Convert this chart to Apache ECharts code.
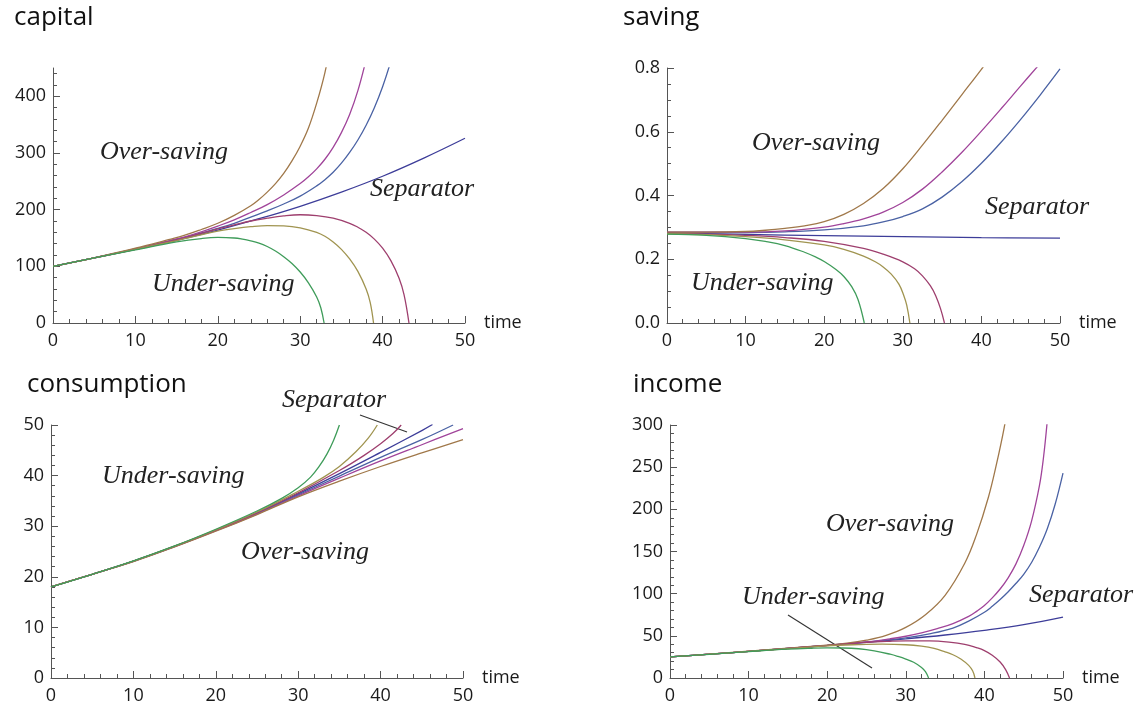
<!DOCTYPE html>
<html>
<head>
<meta charset="utf-8">
<script src="https://cdn.jsdelivr.net/npm/echarts@6.0.0/dist/echarts.min.js"></script>
<style>
  html, body { margin: 0; padding: 0; background: #fff; }
  #chart { width: 1147px; height: 708px; }
</style>
</head>
<body>
<div id="chart"></div>
<script>
// Trajectories of a growth model: [time, value] pairs for each path.

// ---- capital ----
const capSeparator = [[0,100],[5,115],[10,130],[15,146],[20,164],[25,184],[30,206],[35,231],[40,259],[45,291],[50,326]];
const capOverBlue = [[0,100],[5,115],[10,131],[14,144],[16,151],[18,159],[20,167],[22,176],[24,187],[26,198],[28,210],[30,224],[32,242],[33,253],[34,266],[35,282],[36,301],[37,323],[38,349],[39,380],[40,417],[41,462],[42,515]];
const capOverPurple = [[0,100],[5,115],[10,131],[14,145],[16,152],[18,161],[20,171],[22,182],[24,195],[26,209],[28,226],[30,246],[31,258],[32,272],[33,289],[34,310],[35,336],[36,368],[37,410],[38,465]];
const capOverBrown = [[0,100],[5,115],[10,132],[12,139],[14,147],[16,155],[18,165],[20,176],[22,190],[24,207],[25,218],[26,231],[27,246],[28,264],[29,286],[30,312],[31,344],[32,388],[33,442],[34,515]];
const capUnderCrimson = [[0,100],[5,115],[10,130],[15,146.5],[20,166],[22,173],[24,180],[26,185],[28,189],[30,191],[32,189.5],[34,185],[36,176],[37,169],[38,160],[39,148],[40,132],[41,110],[42,79],[42.6,50],[43.2,0]];
const capUnderOlive = [[0,100],[5,115],[10,130],[15,145.5],[20,162],[22,166.5],[24,170],[26,172],[28,171.5],[30,168],[32,160],[33,153],[34,143],[35,130],[36,113],[37,91],[38,60],[38.5,36],[38.9,0]];
const capUnderGreen = [[0,100],[5,115],[10,129],[15,143],[18,149],[20,151],[22,150],[23,148],[24,145],[25,141],[26,135],[27,127],[28,117],[29,105],[30,90],[31,71],[32,46],[32.5,27],[32.9,0]];

// ---- saving ----
const savSeparator = [[0,0.283],[10,0.278],[20,0.274],[30,0.271],[40,0.268],[50,0.266]];
const savOverBlue = [[0,0.284],[10,0.284],[15,0.286],[20,0.292],[25,0.305],[27.5,0.317],[30,0.334],[32.5,0.358],[35,0.395],[37.5,0.443],[40,0.501],[42.5,0.567],[45,0.639],[47.5,0.716],[50,0.797]];
const savOverPurple = [[0,0.285],[10,0.285],[15,0.289],[20,0.301],[22.5,0.312],[25,0.327],[27.5,0.348],[30,0.378],[32.5,0.42],[35,0.474],[37.5,0.535],[40,0.602],[42.5,0.672],[45,0.744],[47.5,0.815]];
const savOverBrown = [[0,0.285],[5,0.285],[10,0.287],[12.5,0.291],[15,0.297],[17.5,0.305],[20,0.318],[22.5,0.341],[25,0.375],[27.5,0.422],[30,0.484],[32.5,0.558],[35,0.636],[37.5,0.716],[40,0.796],[41,0.83]];
const savUnderCrimson = [[0,0.281],[5,0.279],[10,0.275],[15,0.268],[20,0.256],[25,0.234],[27.5,0.216],[30,0.192],[31.5,0.17],[32.5,0.148],[33.5,0.117],[34.2,0.085],[34.8,0.045],[35.3,0]];
const savUnderOlive = [[0,0.28],[5,0.277],[10,0.271],[15,0.261],[20,0.245],[22.5,0.231],[25,0.21],[26.5,0.192],[27.5,0.176],[28.5,0.154],[29.5,0.122],[30.1,0.088],[30.5,0.056],[30.9,0]];
const savUnderGreen = [[0,0.279],[5,0.275],[10,0.265],[12.5,0.256],[15,0.243],[17.5,0.222],[19,0.206],[20,0.193],[21.5,0.168],[22.5,0.146],[23.5,0.114],[24.3,0.074],[25.1,0]];

// ---- consumption ----
const conSeparator = [[0,18],[5,20.5],[10,23.1],[15,26.0],[20,29.2],[25,32.6],[30,36.4],[35,40.4],[40,44.6],[45,48.9],[46.3,50.1]];
const conOverBlue = [[0,18],[5,20.5],[10,23.1],[15,26.0],[20,29.15],[25,32.5],[30,36.2],[35,39.9],[40,43.6],[45,47.1],[48.8,50.0]];
const conOverPurple = [[0,18],[5,20.5],[10,23.05],[15,25.95],[20,29.1],[25,32.4],[30,36.0],[35,39.5],[40,42.9],[45,46.1],[50,49.3]];
const conOverBrown = [[0,18],[5,20.5],[10,23.0],[15,25.9],[20,29.0],[25,32.3],[30,35.8],[35,38.9],[40,41.8],[45,44.5],[50,47.1]];
const conUnderCrimson = [[0,18],[5,20.5],[10,23.1],[15,26.05],[20,29.25],[25,32.7],[30,36.6],[35,41.0],[38,44.0],[40,46.3],[41.5,48.3],[42.5,50]];
const conUnderOlive = [[0,18],[5,20.5],[10,23.1],[15,26.05],[20,29.3],[25,32.8],[30,36.9],[33,39.6],[35,41.8],[37,44.7],[38.5,47.4],[39.6,50]];
const conUnderGreen = [[0,18],[5,20.5],[10,23.15],[15,26.1],[20,29.4],[25,33.0],[28,35.5],[30,37.6],[31.5,39.7],[32.5,41.7],[33.5,44.3],[34.3,47.0],[35,50]];

// ---- income ----
const incSeparator = [[0,25],[5,28.2],[10,31.6],[15,35.1],[20,38.6],[25,42.4],[30,46.4],[35,51],[40,56.5],[45,63.2],[50,72.2]];
const incOverBlue = [[0,25],[5,28.2],[10,31.6],[15,35.1],[20,38.7],[25,42.6],[30,47.6],[33,52.3],[36,59.2],[38,67.5],[40,78],[41,85],[42,93],[43,102],[44,112],[45,123],[46,137],[47,155],[48,177],[49,206],[50,243]];
const incOverPurple = [[0,25],[5,28.2],[10,31.6],[15,35.1],[20,38.8],[25,42.8],[28,46.5],[30,49.5],[32,53.5],[34,58.5],[36,64.5],[38,73],[39,79],[40,86],[41,95],[42,105.5],[43,118.5],[44,135],[45,157],[46,186],[47,228],[47.5,260],[48,305],[48.3,340]];
const incOverBrown = [[0,25],[5,28.2],[10,31.7],[15,35.3],[20,39.1],[22.5,41.2],[25,44.8],[27.5,50.5],[30,60],[32.5,75],[35,98],[37.5,136],[39,170],[40.5,214],[41.5,252],[42.5,296],[43.2,335]];
const incUnderCrimson = [[0,25],[5,28.2],[10,31.5],[15,35],[20,38.5],[25,42.2],[28,43.6],[30,44.1],[33,44],[35.5,42.6],[37.5,40],[39,36],[40,32.5],[41,27],[42,19],[42.7,10],[43.2,0]];
const incUnderOlive = [[0,25],[5,28.2],[10,31.5],[15,34.9],[20,38.2],[24,39.6],[27,40.1],[30,39.4],[32,37.7],[33.6,35.1],[35,31],[36,27.6],[37,22.6],[38,15],[38.5,8.5],[38.8,0]];
const incUnderGreen = [[0,25],[5,28.1],[10,31.3],[15,34.2],[18,35.3],[20,35.7],[22,35.6],[24,34.7],[26,32.2],[28,28.2],[29,25.6],[30,22.5],[31,18.7],[32,12.5],[32.5,7.5],[32.9,0]];

// ---- axis tick labels ----
const timeTicks = [0, 10, 20, 30, 40, 50];
const capitalTicks = [0, 100, 200, 300, 400];
const savingTicks = [0, 0.2, 0.4, 0.6, 0.8];
const consumptionTicks = [0, 10, 20, 30, 40, 50];
const incomeTicks = [0, 50, 100, 150, 200, 250, 300];

const regionLabels = { over: 'Over-saving', under: 'Under-saving', sep: 'Separator' };

// ---- styling ----
const SANS = '"Open Sans", "DejaVu Sans", sans-serif';
const SERIF = '"Liberation Serif", "DejaVu Serif", serif';
const AXIS = '#555';
const TEXT = '#1a1a1a';
const PALETTE = {
  separator: '#3d3d99',
  overBlue: '#4a62a4',
  overPurple: '#a0449a',
  overBrown: '#a0784a',
  underCrimson: '#9e3f6e',
  underOlive: '#a09450',
  underGreen: '#3f9c5a'
};

function minorTicks(majors, parts, top) {
  const out = [];
  const step = (majors[1] - majors[0]) / parts;
  for (let v = step; v < top + 1e-9; v += step) {
    const r = Math.round(v * 1000) / 1000;
    if (!majors.some(m => Math.abs(m - r) < 1e-9)) out.push(r);
  }
  return out;
}

const panels = [
  {
    title: 'capital', titlePos: [14, 5],
    grid: { left: 53, top: 68, width: 412, height: 255 },
    yMax: 450, yTicks: capitalTicks, yParts: 5, fmt: v => String(v),
    curves: { separator: capSeparator, overBlue: capOverBlue, overPurple: capOverPurple, overBrown: capOverBrown,
              underCrimson: capUnderCrimson, underOlive: capUnderOlive, underGreen: capUnderGreen },
    notes: [[regionLabels.over, 100, 152], [regionLabels.sep, 370, 189], [regionLabels.under, 152, 284]],
    pointer: null
  },
  {
    title: 'saving', titlePos: [623, 5],
    grid: { left: 667, top: 68, width: 393, height: 255 },
    yMax: 0.8, yTicks: savingTicks, yParts: 4, fmt: v => v.toFixed(1),
    curves: { separator: savSeparator, overBlue: savOverBlue, overPurple: savOverPurple, overBrown: savOverBrown,
              underCrimson: savUnderCrimson, underOlive: savUnderOlive, underGreen: savUnderGreen },
    notes: [[regionLabels.over, 752, 143], [regionLabels.sep, 985, 207], [regionLabels.under, 691, 283]],
    pointer: null
  },
  {
    title: 'consumption', titlePos: [27, 372],
    grid: { left: 51, top: 425, width: 412, height: 253 },
    yMax: 50, yTicks: consumptionTicks, yParts: 5, fmt: v => String(v),
    curves: { separator: conSeparator, overBlue: conOverBlue, overPurple: conOverPurple, overBrown: conOverBrown,
              underCrimson: conUnderCrimson, underOlive: conUnderOlive, underGreen: conUnderGreen },
    notes: [[regionLabels.under, 102, 476], [regionLabels.over, 241, 552], [regionLabels.sep, 282, 400]],
    pointer: [360, 415, 407, 432]
  },
  {
    title: 'income', titlePos: [633, 372],
    grid: { left: 670, top: 425, width: 393, height: 253 },
    yMax: 300, yTicks: incomeTicks, yParts: 5, fmt: v => String(v),
    curves: { separator: incSeparator, overBlue: incOverBlue, overPurple: incOverPurple, overBrown: incOverBrown,
              underCrimson: incUnderCrimson, underOlive: incUnderOlive, underGreen: incUnderGreen },
    notes: [[regionLabels.over, 826, 524], [regionLabels.under, 742, 597], [regionLabels.sep, 1029, 595]],
    pointer: [788, 615, 872, 668]
  }
];

const option = { animation: false, backgroundColor: '#fff', grid: [], xAxis: [], yAxis: [], series: [], graphic: [] };

panels.forEach((p, i) => {
  option.grid.push(Object.assign({ containLabel: false }, p.grid));

  option.xAxis.push({
    gridIndex: i, type: 'value', min: 0, max: 50, interval: 10,
    name: 'time', nameLocation: 'end', nameGap: 19,
    nameTextStyle: { fontFamily: SANS, fontSize: 18, color: TEXT, verticalAlign: 'middle', padding: [6, 0, 0, 0] },
    axisLine: { show: true, onZero: false, lineStyle: { color: AXIS, width: 1 } },
    axisTick: { show: true, inside: true, length: 7, customValues: timeTicks, lineStyle: { color: AXIS, width: 1 } },
    minorTick: { show: true, splitNumber: 5, length: 4, lineStyle: { color: AXIS, width: 1 } },
    splitLine: { show: false }, minorSplitLine: { show: false },
    axisLabel: { customValues: timeTicks, margin: 9, fontFamily: SANS, fontSize: 18, color: TEXT }
  });

  const yMain = option.yAxis.length;
  option.yAxis.push({
    gridIndex: i, type: 'value', position: 'left', min: 0, max: p.yMax,
    axisLine: { show: true, onZero: false, lineStyle: { color: AXIS, width: 1 } },
    axisTick: { show: true, inside: true, length: 7, customValues: p.yTicks, lineStyle: { color: AXIS, width: 1 } },
    minorTick: { show: false },
    splitLine: { show: false },
    axisLabel: { customValues: p.yTicks, formatter: p.fmt, margin: 7, fontFamily: SANS, fontSize: 18, color: TEXT }
  });
  option.yAxis.push({
    gridIndex: i, type: 'value', position: 'left', min: 0, max: p.yMax,
    axisLine: { show: false },
    axisTick: { show: true, inside: true, length: 4, customValues: minorTicks(p.yTicks, p.yParts, p.yMax), lineStyle: { color: AXIS, width: 1 } },
    splitLine: { show: false },
    axisLabel: { show: false }
  });

  Object.keys(PALETTE).forEach(key => {
    option.series.push({
      type: 'line', xAxisIndex: i, yAxisIndex: yMain,
      data: p.curves[key], showSymbol: false, symbol: 'none',
      smooth: 0.4, clip: true,
      lineStyle: { color: PALETTE[key], width: 1.3 },
      emphasis: { disabled: true }
    });
  });

  option.graphic.push({
    type: 'text', x: p.titlePos[0], y: p.titlePos[1],
    style: { text: p.title, font: '26px ' + SANS, fill: '#111', align: 'left', verticalAlign: 'top' }
  });
  p.notes.forEach(n => {
    option.graphic.push({
      type: 'text', x: n[1], y: n[2],
      style: { text: n[0], font: 'italic 26px ' + SERIF, fill: '#222', align: 'left', verticalAlign: 'middle' }
    });
  });
  if (p.pointer) {
    option.graphic.push({
      type: 'line',
      shape: { x1: p.pointer[0], y1: p.pointer[1], x2: p.pointer[2], y2: p.pointer[3] },
      style: { stroke: '#333', lineWidth: 1.1 }
    });
  }
});

const chart = echarts.init(document.getElementById('chart'), null, { renderer: 'canvas' });
chart.setOption(option);
</script>
</body>
</html>
